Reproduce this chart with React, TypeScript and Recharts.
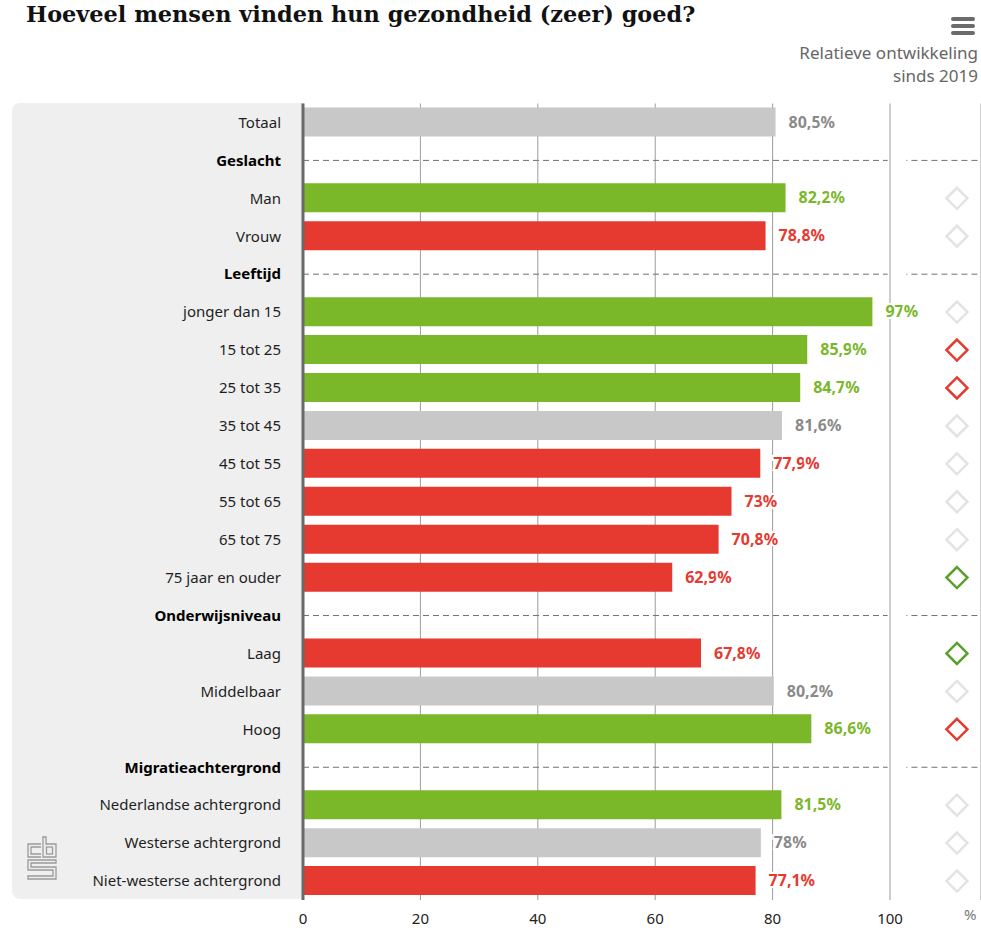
import React from 'react';
import {
  ComposedChart,
  Bar,
  Line,
  Cell,
  XAxis,
  YAxis,
  CartesianGrid,
  ReferenceLine,
  LabelList,
} from 'recharts';

// rows from top to bottom, section headers have no value
const categories = [
  'Totaal',
  'Geslacht',
  'Man',
  'Vrouw',
  'Leeftijd',
  'jonger dan 15',
  '15 tot 25',
  '25 tot 35',
  '35 tot 45',
  '45 tot 55',
  '55 tot 65',
  '65 tot 75',
  '75 jaar en ouder',
  'Onderwijsniveau',
  'Laag',
  'Middelbaar',
  'Hoog',
  'Migratieachtergrond',
  'Nederlandse achtergrond',
  'Westerse achtergrond',
  'Niet-westerse achtergrond',
];
const headers = ['Geslacht', 'Leeftijd', 'Onderwijsniveau', 'Migratieachtergrond'];

const values = [
  80.5, null, 82.2, 78.8, null, 97, 85.9, 84.7, 81.6, 77.9, 73, 70.8, 62.9,
  null, 67.8, 80.2, 86.6, null, 81.5, 78, 77.1,
];

// compared to total: above / below / same
const compare = [
  'same', null, 'up', 'down', null, 'up', 'up', 'up', 'same', 'down', 'down',
  'down', 'down', null, 'down', 'same', 'up', null, 'up', 'same', 'down',
];

// relative development since 2019
const trend = [
  null, null, 'same', 'same', null, 'same', 'down', 'down', 'same', 'same',
  'same', 'same', 'up', null, 'up', 'same', 'down', null, 'same', 'same', 'same',
];

const xTicks = [0, 20, 40, 60, 80, 100];

const X_MAX = 115.5;
const DIAMOND_X = 111.4;

const barColors: Record<string, string> = { up: '#7ab729', down: '#e6392f', same: '#c8c8c8' };
const labelColors: Record<string, string> = { up: '#7ab729', down: '#e6392f', same: '#8a8a8a' };
const trendColors: Record<string, string> = { up: '#58a02a', down: '#e6392f', same: '#e3e3e3' };

const FONT = '"Noto Sans", sans-serif';

const chartData = categories.map((name, i) => ({
  name,
  value: values[i],
  row: values[i] == null ? null : String(i),
  compare: compare[i],
  trend: trend[i],
  dpos: trend[i] ? DIAMOND_X : null,
}));

const CategoryTick = (props: any) => {
  const { x, y, payload } = props;
  const isHeader = headers.includes(payload.value);
  return (
    <text
      x={x}
      y={y}
      dy="0.35em"
      textAnchor="end"
      fontFamily={FONT}
      fontSize={15}
      fontWeight={isHeader ? 700 : 400}
      fill={isHeader ? '#000' : '#1e1e1e'}
    >
      {payload.value}
    </text>
  );
};

// value holds the row index, so colour and number come from the arrays
const ValueLabel = (props: any) => {
  const { x, y, width, height, value } = props;
  if (value == null) return null;
  const i = Number(value);
  const v = values[i];
  if (v == null) return null;
  const c = compare[i] || 'same';
  return (
    <text
      x={x + width + 13}
      y={y + height / 2}
      dy="0.35em"
      fontFamily={FONT}
      fontSize={16}
      fontWeight={700}
      fill={labelColors[c]}
      stroke="#fff"
      strokeWidth={4}
      paintOrder="stroke"
    >
      {String(v).replace('.', ',')}%
    </text>
  );
};

const Diamond = (props: any) => {
  const { cx, cy, payload, index } = props;
  if (!payload || !payload.trend || cx == null) return <g key={`d-${index}`} />;
  const r = 10.5;
  return (
    <path
      key={`d-${index}`}
      d={`M${cx},${cy - r} L${cx + r},${cy} L${cx},${cy + r} L${cx - r},${cy} Z`}
      fill="none"
      stroke={trendColors[payload.trend]}
      strokeWidth={2.5}
    />
  );
};

const CbsLogo = () => (
  <svg width={32} height={46} style={{ position: 'absolute', left: 27, top: 836 }}>
    <g fill="none" stroke="#9a9a9a" strokeWidth={1.3}>
      <path d="M14 8 H1 V21 H14" />
      <path d="M14 11 H4 V18 H14" />
      <path d="M16 1 V21 H29 V8 H19 V1 Z" />
      <rect x={19.5} y={11} width={6} height={7} />
      <path d="M29 24 H1 V34 H26 V40 H1 V43 H29 V31 H4 V27 H29 Z" />
    </g>
  </svg>
);

export default function App() {
  return (
    <div
      style={{
        position: 'absolute',
        left: 0,
        top: 0,
        width: 981,
        height: 928,
        background: '#fff',
        fontFamily: FONT,
        overflow: 'hidden',
      }}
    >
      <div
        style={{
          position: 'absolute',
          left: 26,
          top: 1,
          fontFamily: '"DejaVu Serif", serif',
          fontWeight: 700,
          fontSize: 22.4,
          color: '#111',
          whiteSpace: 'nowrap',
        }}
      >
        Hoeveel mensen vinden hun gezondheid (zeer) goed?
      </div>

      {[17, 24, 31].map(t => (
        <div
          key={t}
          style={{
            position: 'absolute',
            left: 951,
            top: t,
            width: 24,
            height: 4,
            borderRadius: 2,
            background: '#6b6b6b',
          }}
        />
      ))}

      <div
        style={{
          position: 'absolute',
          right: 3,
          top: 41,
          textAlign: 'right',
          fontSize: 17,
          lineHeight: '23px',
          color: '#666',
        }}
      >
        Relatieve ontwikkeling
        <br />
        sinds 2019
      </div>

      <div
        style={{
          position: 'absolute',
          left: 12,
          top: 103,
          width: 291,
          height: 796,
          background: '#efefef',
          borderRadius: '8px 0 0 8px',
        }}
      />
      <CbsLogo />

      <div style={{ position: 'absolute', left: 0, top: 0 }}>
        <ComposedChart
          width={981}
          height={928}
          data={chartData}
          layout="vertical"
          margin={{ top: 103.5, right: 0, bottom: 0, left: 0 }}
        >
          <CartesianGrid horizontal={false} stroke="#9c9c9c" />
          <XAxis
            type="number"
            domain={[0, X_MAX]}
            ticks={xTicks}
            allowDataOverflow
            axisLine={false}
            tickLine={false}
            height={28}
            tickMargin={7}
            tick={{ fontSize: 15, fill: '#222', fontFamily: FONT }}
          />
          <YAxis
            type="category"
            dataKey="name"
            width={303}
            tickSize={0}
            tickMargin={22}
            interval={0}
            axisLine={{ stroke: '#6a6a6a', strokeWidth: 3 }}
            tickLine={false}
            tick={<CategoryTick />}
          />
          {headers.map(h => (
            <ReferenceLine
              key={`a-${h}`}
              segment={[
                { x: 0, y: h },
                { x: 99.6, y: h },
              ]}
              stroke="#707070"
              strokeDasharray="6 4"
            />
          ))}
          {headers.map(h => (
            <ReferenceLine
              key={`b-${h}`}
              segment={[
                { x: 102.8, y: h },
                { x: X_MAX, y: h },
              ]}
              stroke="#707070"
              strokeDasharray="1 4 6 4 6 4 6 4 6 4 6 4 6 4 6 4 6 4"
            />
          ))}
          <Bar dataKey="value" barSize={29} isAnimationActive={false}>
            {chartData.map((d, i) => (
              <Cell key={i} fill={barColors[d.compare || 'same']} />
            ))}
            <LabelList dataKey="row" content={<ValueLabel />} />
          </Bar>
          <Line
            dataKey="dpos"
            stroke="none"
            dot={Diamond}
            activeDot={false}
            isAnimationActive={false}
          />
        </ComposedChart>
      </div>

      <div
        style={{
          position: 'absolute',
          left: 964,
          top: 904,
          fontSize: 15,
          color: '#777',
        }}
      >
        %
      </div>
    </div>
  );
}
